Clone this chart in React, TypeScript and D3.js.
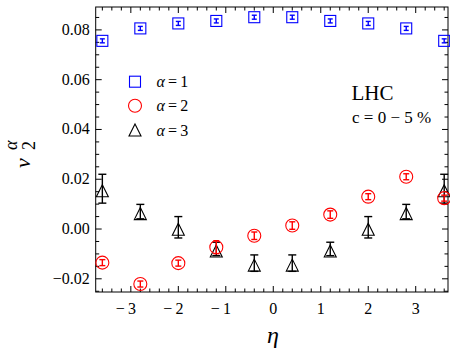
import React from 'react';
import * as d3 from 'd3';

// pseudorapidity bins
const etaValues = [-3.6, -2.8, -2, -1.2, -0.4, 0.4, 1.2, 2, 2.8, 3.6];

// alpha = 1
const v1 = [0.0756, 0.0806, 0.0826, 0.0836, 0.0851, 0.0851, 0.0836, 0.0826, 0.0806, 0.0756];
const e1 = [0.0008, 0.0008, 0.0008, 0.0008, 0.0008, 0.0008, 0.0008, 0.0008, 0.0008, 0.0008];
// alpha = 2
const v2 = [-0.0135, -0.0221, -0.0137, -0.0073, -0.0027, 0.0014, 0.0058, 0.013, 0.021, 0.0124];
const e2 = [0.0012, 0.0012, 0.0012, 0.0026, 0.0015, 0.0015, 0.0015, 0.0012, 0.0012, 0.0012];
// alpha = 3
const v3 = [0.0162, 0.007, 0.0007, -0.008, -0.0137, -0.0137, -0.008, 0.0007, 0.007, 0.0162];
const e3 = [0.0058, 0.0029, 0.0043, 0.0027, 0.0033, 0.0033, 0.0027, 0.0043, 0.0029, 0.0058];

const xTicks = [-3, -2, -1, 0, 1, 2, 3];
const yTicks = [-0.02, 0, 0.02, 0.04, 0.06, 0.08];
const legendLabels = ['1', '2', '3'];

const width = 450;
const height = 353;
const left = 95.7, right = 448, top = 7, bottom = 292;
const serif = { fontFamily: 'Liberation Serif' };

const x = d3.scaleLinear().domain([-3.74, 3.68]).range([left, right]);
const y = d3.scaleLinear().domain([-0.0253, 0.0892]).range([bottom, top]);

const xMinor = d3.range(-3.6, 3.61, 0.2).map(d => Math.round(d * 10) / 10);
const yMinor = d3.range(-0.025, 0.0851, 0.005).map(d => Math.round(d * 1000) / 1000);
const isMajorX = (d: number) => Math.abs(d - Math.round(d)) < 1e-6;
const isMajorY = (d: number) => Math.abs(d / 0.02 - Math.round(d / 0.02)) < 1e-6;

const fmtY = (d: number) => (d < 0 ? '\u2212' : '') + Math.abs(d).toFixed(2);
const fmtX = (d: number) => (d < 0 ? '\u2212\u2009' : '') + Math.abs(d);

const Square = ({ cx, cy, color }: any) => (
  <rect x={cx - 5.5} y={cy - 5.5} width={11} height={11} fill="none" stroke={color} strokeWidth={1.1} />
);
const Circle = ({ cx, cy, color }: any) => (
  <circle cx={cx} cy={cy} r={6.5} fill="none" stroke={color} strokeWidth={1.1} />
);
const Triangle = ({ cx, cy, color }: any) => {
  const s = 12;
  const c = cy + 2;
  return (
    <path d={`M${cx},${c - s / 2}L${cx + s / 2},${c + s / 2}L${cx - s / 2},${c + s / 2}Z`}
      fill="none" stroke={color} strokeWidth={1.1} />
  );
};
const ErrBar = ({ cx, v, e, cap, color }: any) => {
  const y0 = y(v - e), y1 = y(v + e);
  return (
    <g stroke={color} strokeWidth={1.4}>
      <line x1={cx} x2={cx} y1={y0} y2={y1} />
      <line x1={cx - cap / 2} x2={cx + cap / 2} y1={y0} y2={y0} />
      <line x1={cx - cap / 2} x2={cx + cap / 2} y1={y1} y2={y1} />
    </g>
  );
};

const legendY = [81.7, 105.7, 130];

const App = () => (
  <div style={{ position: 'absolute', left: 0, top: 0 }}>
    <svg width={width} height={height} style={{ display: 'block', ...serif }}>
      <rect x={left} y={top} width={right - left} height={bottom - top} fill="none" stroke="#000" />
      <g stroke="#000">
        {xMinor.map(d => {
          const len = isMajorX(d) ? 6 : 3.5;
          return (
            <g key={'x' + d}>
              <line x1={x(d)} x2={x(d)} y1={bottom} y2={bottom - len} />
              <line x1={x(d)} x2={x(d)} y1={top} y2={top + len} />
            </g>
          );
        })}
        {yMinor.map(d => {
          const len = isMajorY(d) ? 6 : 3.5;
          return (
            <g key={'y' + d}>
              <line x1={left} x2={left + len} y1={y(d)} y2={y(d)} />
              <line x1={right} x2={right - len} y1={y(d)} y2={y(d)} />
            </g>
          );
        })}
      </g>
      {yTicks.map(d => (
        <text key={'yl' + d} x={left - 6} y={y(d) + 5} textAnchor="end" fontSize={16} style={serif}>{fmtY(d)}</text>
      ))}
      {xTicks.map(d => (
        <text key={'xl' + d} x={x(d) - (d < 0 ? 5 : 0)} y={314} textAnchor="middle" fontSize={16} style={serif}>{fmtX(d)}</text>
      ))}

      <text x={273} y={343} textAnchor="middle" fontSize={24} fontStyle="italic" style={serif}>{'\u03b7'}</text>
      <g transform="translate(30,168) rotate(-90)" style={serif}>
        <text x={0} y={0} fontSize={22} fontStyle="italic">{'\u03bd'}</text>
        <text x={18} y={5} fontSize={18}>2</text>
        <text x={18} y={-13} fontSize={18} fontStyle="italic">{'\u03b1'}</text>
      </g>

      {etaValues.map((eta, i) => (
        <g key={'t' + i}>
          <ErrBar cx={x(eta)} v={v3[i]} e={e3[i]} cap={8} color="#000" />
          <Triangle cx={x(eta)} cy={y(v3[i])} color="#000" />
        </g>
      ))}
      {etaValues.map((eta, i) => (
        <g key={'c' + i}>
          <ErrBar cx={x(eta)} v={v2[i]} e={e2[i]} cap={6} color="#ff0000" />
          <Circle cx={x(eta)} cy={y(v2[i])} color="#ff0000" />
        </g>
      ))}
      {etaValues.map((eta, i) => (
        <g key={'s' + i}>
          <ErrBar cx={x(eta)} v={v1[i]} e={e1[i]} cap={5} color="#0000ff" />
          <Square cx={x(eta)} cy={y(v1[i])} color="#0000ff" />
        </g>
      ))}

      <Square cx={135} cy={legendY[0]} color="#0000ff" />
      <Circle cx={135} cy={legendY[1]} color="#ff0000" />
      <Triangle cx={135} cy={legendY[2] - 2} color="#000" />
      {legendLabels.map((lab, i) => (
        <text key={'lg' + i} x={156.5} y={legendY[i] + 5.5} fontSize={16} style={serif}>
          <tspan fontStyle="italic">{'\u03b1'}</tspan>
          <tspan>{'\u2009=\u2009' + lab}</tspan>
        </text>
      ))}

      <text x={351.5} y={99.5} fontSize={21} style={serif}>LHC</text>
      <text x={352} y={123} fontSize={17} style={serif}>{'c = 0 \u2212 5 %'}</text>
    </svg>
  </div>
);

export default App;
